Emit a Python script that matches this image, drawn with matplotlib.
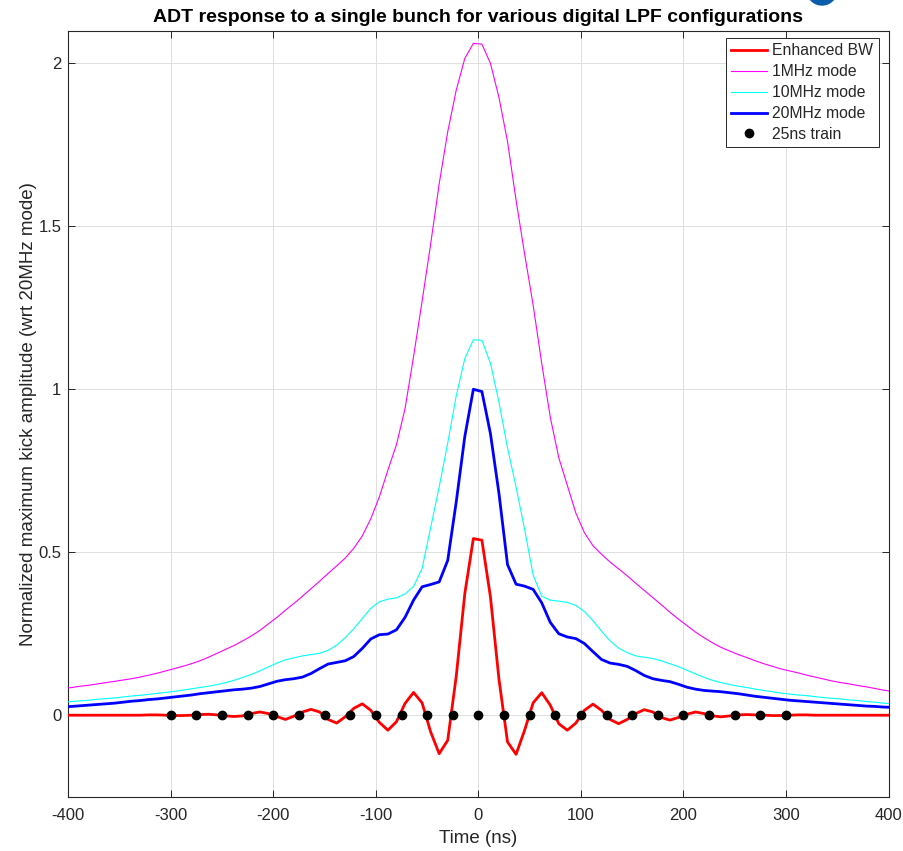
import numpy as np
import matplotlib
matplotlib.use("Agg")
import matplotlib.pyplot as plt
from matplotlib.patches import Circle

plt.rcParams['font.family'] = ['Liberation Sans', 'DejaVu Sans']

# ---------------- data ----------------
T_CENTER = -0.8          # ns, centre of the symmetric sample grid
SAMPLE_NS = 25.0 / 3.0   # ns between samples

enhanced_bw = [
    0, 0, 0, 0, 0, 0, 0, 0, 0, 0,
    0.001, 0.001, 0.0, -0.001, -0.001, 0.0, 0.002, 0.003, 0.001, -0.002,
    -0.004, -0.002, 0.005, 0.010, 0.005, -0.004, -0.013, -0.003, 0.010, 0.018,
    0.010, -0.013, -0.024, -0.005, 0.021, 0.035, 0.015, -0.022, -0.046, -0.020,
    0.036, 0.070, 0.038, -0.051, -0.118, -0.077, 0.120, 0.373, 0.542,
    0.537, 0.363, 0.110, -0.082, -0.120, -0.046, 0.038, 0.069, 0.031, -0.026,
    -0.046, -0.024, 0.015, 0.034, 0.015, -0.013, -0.026, -0.013, 0.005, 0.017,
    0.010, -0.007, -0.015, -0.007, 0.003, 0.010, 0.005, -0.002, -0.005, -0.002,
    0.001, 0.002, 0.001, 0.0, -0.001, -0.001, 0.0, 0.001, 0.001, 0.0,
    0, 0, 0, 0, 0, 0, 0, 0, 0,
]

mode_1mhz = [
    0.082, 0.085, 0.089, 0.092, 0.096, 0.100, 0.104, 0.108, 0.112, 0.117,
    0.123, 0.129, 0.136, 0.143, 0.150, 0.158, 0.167, 0.178, 0.190, 0.202,
    0.214, 0.228, 0.243, 0.260, 0.280, 0.300, 0.322, 0.343, 0.365, 0.388,
    0.411, 0.435, 0.458, 0.482, 0.512, 0.550, 0.603, 0.670, 0.752, 0.830,
    0.940, 1.100, 1.270, 1.445, 1.630, 1.790, 1.918, 2.015, 2.061,
    2.059, 2.000, 1.895, 1.760, 1.580, 1.415, 1.258, 1.080, 0.915, 0.790,
    0.705, 0.620, 0.560, 0.520, 0.494, 0.470, 0.449, 0.428, 0.405, 0.383,
    0.361, 0.339, 0.316, 0.295, 0.275, 0.255, 0.238, 0.222, 0.208, 0.197,
    0.186, 0.177, 0.167, 0.158, 0.150, 0.142, 0.136, 0.130, 0.123, 0.117,
    0.111, 0.105, 0.100, 0.096, 0.091, 0.087, 0.082, 0.077, 0.073,
]

mode_10mhz = [
    0.040, 0.042, 0.044, 0.046, 0.049, 0.051, 0.053, 0.056, 0.059, 0.061,
    0.064, 0.067, 0.070, 0.073, 0.077, 0.081, 0.085, 0.089, 0.094, 0.100,
    0.107, 0.116, 0.125, 0.136, 0.148, 0.160, 0.170, 0.176, 0.182, 0.186,
    0.190, 0.199, 0.215, 0.238, 0.265, 0.297, 0.328, 0.348, 0.356, 0.360,
    0.372, 0.395, 0.450, 0.575, 0.700, 0.835, 0.980, 1.094, 1.152,
    1.150, 1.080, 0.960, 0.820, 0.700, 0.570, 0.430, 0.365, 0.353, 0.350,
    0.346, 0.337, 0.318, 0.290, 0.258, 0.228, 0.206, 0.192, 0.182, 0.178,
    0.174, 0.167, 0.158, 0.149, 0.138, 0.127, 0.116, 0.107, 0.100, 0.094,
    0.089, 0.085, 0.080, 0.076, 0.072, 0.068, 0.065, 0.062, 0.060, 0.057,
    0.054, 0.052, 0.050, 0.047, 0.045, 0.042, 0.040, 0.037, 0.035,
]

mode_20mhz = [
    0.026, 0.027, 0.029, 0.031, 0.033, 0.035, 0.037, 0.040, 0.043, 0.045,
    0.048, 0.050, 0.053, 0.056, 0.059, 0.062, 0.066, 0.069, 0.072, 0.075,
    0.078, 0.080, 0.083, 0.088, 0.096, 0.104, 0.109, 0.112, 0.117, 0.128,
    0.143, 0.157, 0.162, 0.167, 0.180, 0.205, 0.234, 0.247, 0.249, 0.262,
    0.300, 0.353, 0.394, 0.401, 0.409, 0.475, 0.655, 0.855, 1.000,
    0.993, 0.864, 0.680, 0.462, 0.402, 0.396, 0.386, 0.345, 0.285, 0.250,
    0.240, 0.235, 0.220, 0.195, 0.171, 0.160, 0.156, 0.150, 0.137, 0.122,
    0.112, 0.107, 0.103, 0.095, 0.086, 0.080, 0.076, 0.074, 0.072, 0.069,
    0.066, 0.062, 0.058, 0.055, 0.052, 0.049, 0.046, 0.044, 0.042, 0.040,
    0.038, 0.036, 0.034, 0.032, 0.030, 0.028, 0.027, 0.025, 0.024,
]

train_times = list(range(-300, 301, 25))
train_values = [0.0] * len(train_times)

x_ticks = [-400, -300, -200, -100, 0, 100, 200, 300, 400]
x_ticklabels = ['-400', '-300', '-200', '-100', '0', '100', '200', '300', '400']
y_ticks = [0, 0.5, 1, 1.5, 2]
y_ticklabels = ['0', '0.5', '1', '1.5', '2']


def time_axis(vals):
    n = len(vals)
    return T_CENTER + SAMPLE_NS * (np.arange(n) - (n - 1) / 2.0)


# ---------------- figure ----------------
fig = plt.figure(figsize=(9.04, 8.51), dpi=100)
ax = fig.add_axes([0.0756, 0.0638, 0.9073, 0.9001])

dark = '#262626'
ax.plot(time_axis(enhanced_bw), enhanced_bw, color='#ff0000', lw=2.0, label='Enhanced BW', zorder=5)
ax.plot(time_axis(mode_1mhz), mode_1mhz, color='#ff00ff', lw=0.8, label='1MHz mode', zorder=3)
ax.plot(time_axis(mode_10mhz), mode_10mhz, color='#00ffff', lw=0.8, label='10MHz mode', zorder=3)
ax.plot(time_axis(mode_20mhz), mode_20mhz, color='#0000ff', lw=2.0, label='20MHz mode', zorder=4)
ax.plot(train_times, train_values, ls='none', marker='o', ms=6, color='black',
        label='25ns train', zorder=6)

ax.set_xlim(-400, 400)
ax.set_ylim(-0.25, 2.1)
ax.set_xticks(x_ticks)
ax.set_xticklabels(x_ticklabels)
ax.set_yticks(y_ticks)
ax.set_yticklabels(y_ticklabels)

ax.grid(True, color='#dfdfdf', lw=0.7)
ax.set_axisbelow(True)
for sp in ax.spines.values():
    sp.set_color(dark)
    sp.set_linewidth(0.8)
ax.tick_params(direction='in', top=True, right=True, length=5, width=0.7,
               color=dark, labelcolor=dark, labelsize=12)
ax.tick_params(axis='x', pad=8)
ax.tick_params(axis='y', pad=5)

ax.set_xlabel('Time (ns)', fontsize=13.5, color=dark, labelpad=5)
ax.set_ylabel('Normalized maximum kick amplitude (wrt 20MHz mode)', fontsize=13.5,
              color=dark, labelpad=1)
ax.set_title('ADT response to a single bunch for various digital LPF configurations',
             fontsize=14, fontweight='bold', color='black', pad=6)

leg = ax.legend(loc='upper right', bbox_to_anchor=(0.988, 0.991), borderaxespad=0,
                fontsize=11.3, frameon=True, fancybox=False, framealpha=1,
                edgecolor=dark, handlelength=2.3, handletextpad=0.3,
                labelspacing=0.38, borderpad=0.35)
leg.get_frame().set_linewidth(0.7)
for txt in leg.get_texts():
    txt.set_color(dark)

# partial logo at the top edge
fig.patches.append(Circle((822, 851 + 10), 15, transform=None, color='#0b5cad',
                          figure=fig, zorder=10))

fig.savefig('out.png', dpi=100)
